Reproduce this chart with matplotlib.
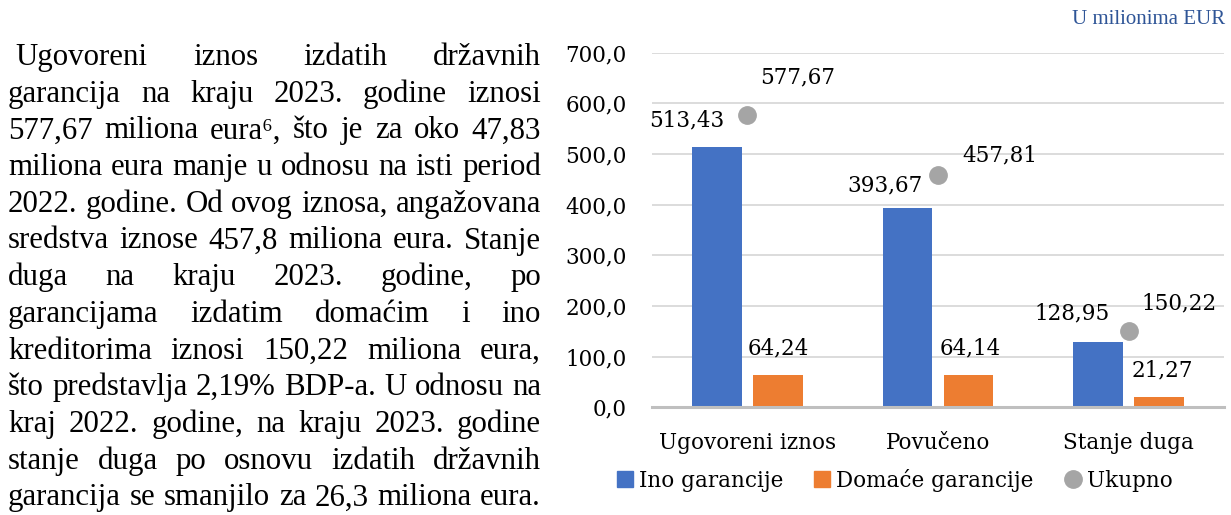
import matplotlib
matplotlib.use("Agg")
import matplotlib.pyplot as plt
from matplotlib.lines import Line2D
import numpy as np

# ---------------- data ----------------
categories = ["Ugovoreni iznos", "Povučeno", "Stanje duga"]
ino = [513.43, 393.67, 128.95]
domace = [64.24, 64.14, 21.27]
ukupno = [577.67, 457.81, 150.22]
ino_labels = ["513,43", "393,67", "128,95"]
domace_labels = ["64,24", "64,14", "21,27"]
ukupno_labels = ["577,67", "457,81", "150,22"]
yticks = [0, 100, 200, 300, 400, 500, 600, 700]
ytick_labels = ["0,0", "100,0", "200,0", "300,0", "400,0", "500,0", "600,0", "700,0"]
series_names = ["Ino garancije", "Domaće garancije", "Ukupno"]
unit_title = "U milionima EUR"

paragraph_lines = [
    " Ugovoreni iznos izdatih državnih",
    "garancija na kraju 2023. godine iznosi",
    "577,67 miliona eura⁶, što  je za oko 47,83",
    "miliona eura manje u odnosu na isti period",
    "2022. godine. Od ovog iznosa, angažovana",
    "sredstva iznose 457,8 miliona eura. Stanje",
    "duga na kraju 2023. godine, po",
    "garancijama izdatim domaćim i ino",
    "kreditorima iznosi 150,22 miliona eura,",
    "što predstavlja 2,19% BDP-a. U odnosu na",
    "kraj 2022. godine, na kraju 2023. godine",
    "stanje duga po osnovu izdatih državnih",
    "garancija se smanjilo za 26,3 miliona eura.",
]

# ---------------- style ----------------
W, H, DPI = 1231, 515, 100
PARA_FONT = ["Liberation Serif", "DejaVu Serif"]
CHART_FONT = ["DejaVu Serif"]
plt.rcParams["font.family"] = CHART_FONT
BLUE = "#4472C4"
ORANGE = "#ED7D31"
GRAY = "#A5A5A5"
TITLE_BLUE = "#2F5597"
CH_FS = 15.5

fig = plt.figure(figsize=(W / DPI, H / DPI), dpi=DPI)
px = 72.0 / DPI  # points per pixel

# ---------------- chart ----------------
ax_l, ax_r, ax_t, ax_b = 652, 1224, 52.7, 407.3
ax = fig.add_axes([ax_l / W, 1 - ax_b / H, (ax_r - ax_l) / W, (ax_b - ax_t) / H])
x = np.arange(len(categories))
bw = 0.262
off = 0.16
ax.bar(x - off, ino, width=bw, color=BLUE, zorder=2)
ax.bar(x + off, domace, width=bw, color=ORANGE, zorder=2)
ax.plot(x, ukupno, linestyle="none", marker="o", markersize=12.5,
        color=GRAY, zorder=3)

ax.set_xlim(-0.5, len(categories) - 0.5)
ax.set_ylim(0, 700)
ax.set_yticks(yticks)
ax.set_yticklabels(ytick_labels)
ax.set_xticks(x)
ax.set_xticklabels(categories)
ax.tick_params(axis="y", length=0, pad=18, labelsize=CH_FS)
ax.tick_params(axis="x", length=0, pad=18, labelsize=CH_FS)
for s in ["top", "right", "left"]:
    ax.spines[s].set_visible(False)
ax.spines["bottom"].set_color("#BFBFBF")
ax.spines["bottom"].set_linewidth(2.2)
ax.spines["bottom"].set_zorder(4)
ax.yaxis.grid(True, color="#D9D9D9", linewidth=1.3, zorder=0)
ax.set_axisbelow(True)

# data labels (offsets in pixels relative to mark)
ino_off = [(-30, 27), (-22, 22), (-26, 29)]
dom_off = [(0, 26), (2, 26), (3, 26)]
uk_off = [(50, 37), (62, 20), (50, 28)]
lab_kw = dict(ha="center", va="center", fontsize=CH_FS, color="#000000",
              textcoords="offset points", annotation_clip=False)
for i in range(len(categories)):
    ax.annotate(ino_labels[i], (x[i] - off, ino[i]),
                xytext=(ino_off[i][0] * px, ino_off[i][1] * px), **lab_kw)
    ax.annotate(domace_labels[i], (x[i] + off, domace[i]),
                xytext=(dom_off[i][0] * px, dom_off[i][1] * px), **lab_kw)
    ax.annotate(ukupno_labels[i], (x[i], ukupno[i]),
                xytext=(uk_off[i][0] * px, uk_off[i][1] * px), **lab_kw)

fig.text(1225 / W, 1 - 20 / H, unit_title, ha="right", va="center",
         fontsize=15, color=TITLE_BLUE, family=PARA_FONT)

handles = [
    Line2D([], [], linestyle="none", marker="s", markersize=11, color=BLUE),
    Line2D([], [], linestyle="none", marker="s", markersize=11, color=ORANGE),
    Line2D([], [], linestyle="none", marker="o", markersize=12.5, color=GRAY),
]
fig.legend(handles, series_names, loc="center", ncol=3,
           bbox_to_anchor=(895 / W, 1 - 480 / H), frameon=False,
           fontsize=CH_FS, handlelength=0.7, handletextpad=0.3,
           columnspacing=1.45, borderpad=0)

# ---------------- justified paragraph ----------------
left_px, right_px = 8, 541
base_y0, line_step = 65, 36.7
para_size = 22.0
renderer = fig.canvas.get_renderer()


def word_width(t, size):
    tt = fig.text(0, 0, t, fontsize=size, family=PARA_FONT)
    w = tt.get_window_extent(renderer).width
    tt.remove()
    return w


# fit font size so the widest natural line fits the column
space_w = word_width("a a", para_size) - word_width("aa", para_size)
nat = []
for line in paragraph_lines:
    words = line.split()
    lead = space_w if line.startswith(" ") else 0
    nat.append(sum(word_width(wd, para_size) for wd in words)
               + space_w * (len(words) - 1) + lead)
scale = (right_px - left_px) * 0.995 / max(nat)
para_size *= scale

space_w = word_width("a a", para_size) - word_width("aa", para_size)
for li, line in enumerate(paragraph_lines):
    words = line.split()
    lead = space_w if line.startswith(" ") else 0
    widths = [word_width(wd, para_size) for wd in words]
    gap = (right_px - left_px - lead - sum(widths)) / max(len(words) - 1, 1)
    xpos = left_px + lead
    yb = base_y0 + li * line_step
    for wd, ww in zip(words, widths):
        fig.text(xpos / W, 1 - yb / H, wd, fontsize=para_size, family=PARA_FONT,
                 ha="left", va="baseline", color="#000000")
        xpos += ww + gap

fig.savefig("out.png", dpi=DPI)
